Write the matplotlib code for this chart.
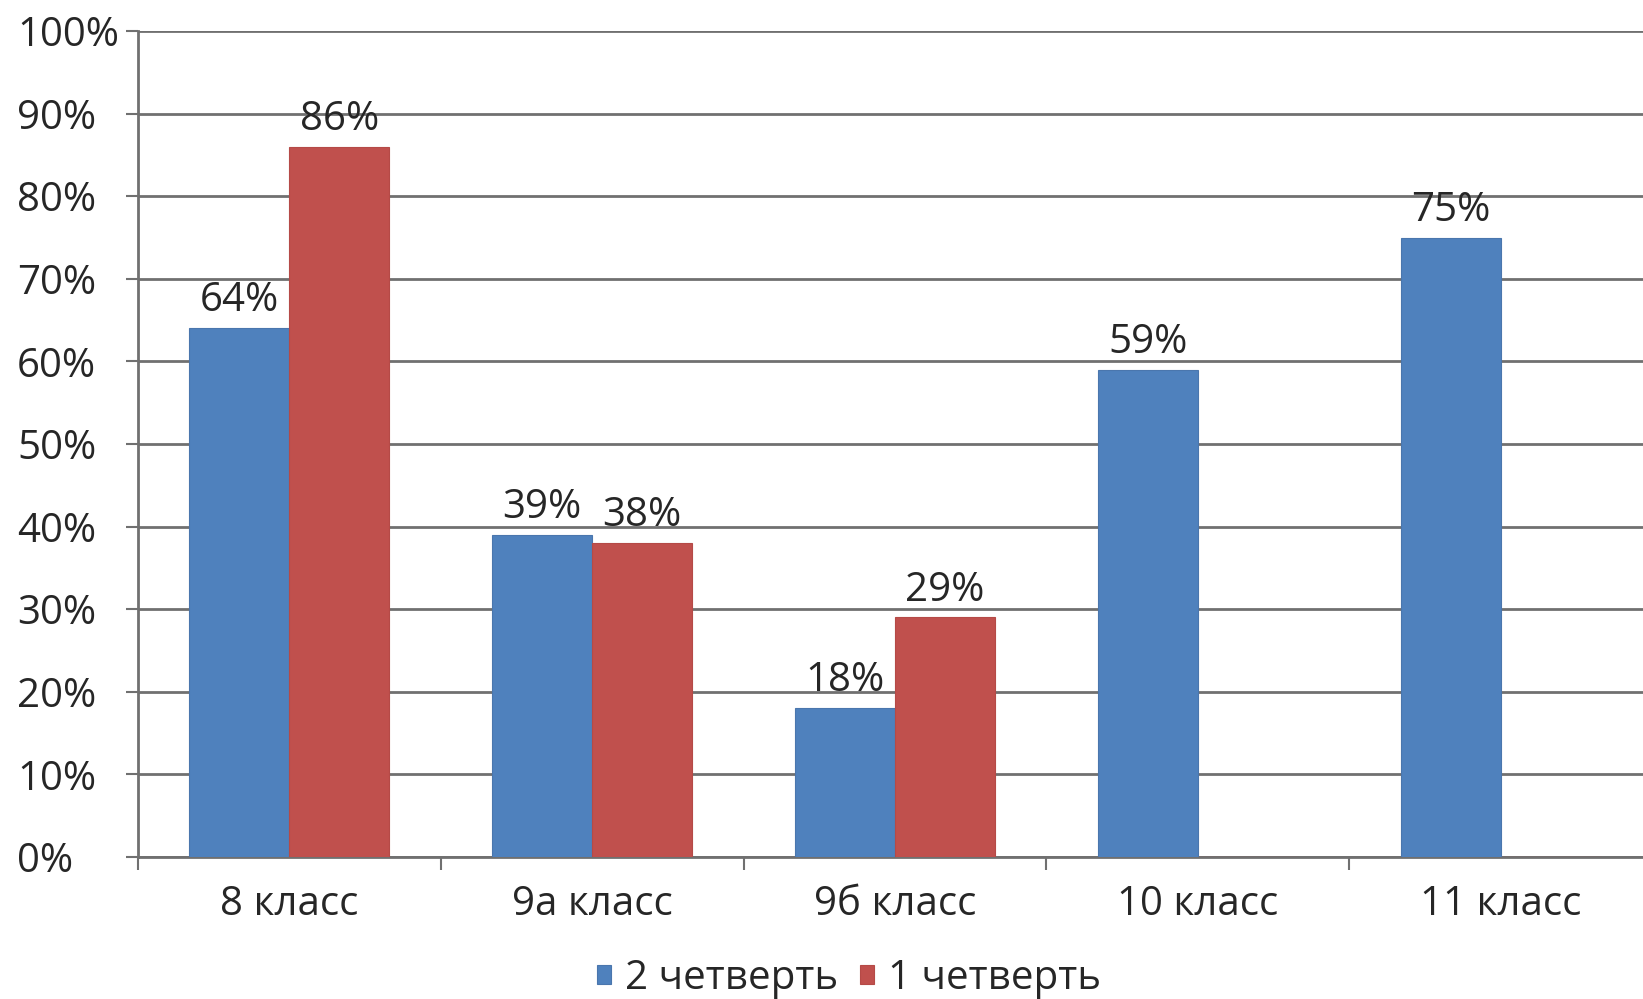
import numpy as np
import matplotlib.pyplot as plt
from matplotlib.ticker import FixedLocator, PercentFormatter

plt.rcParams['font.family'] = ['Open Sans', 'DejaVu Sans']

categories = ['8 класс', '9а класс', '9б класс', '10 класс', '11 класс']
q2 = [64, 39, 18, 59, 75]
q1 = [86, 38, 29, None, None]
series_names = ['2 четверть', '1 четверть']

blue = '#4F81BD'
red = '#C0504D'
fs = 29

fig = plt.figure(figsize=(16.43, 9.99), dpi=100)
# plot area runs slightly past the right edge, like in the cropped original
ax = fig.add_axes([138 / 1643, 1 - 857 / 999, 1514 / 1643, (857 - 31) / 999])

x = np.arange(len(categories))
w = 0.33

b2 = ax.bar(x - w / 2, q2, w, color=blue, edgecolor='#4a76ad', linewidth=0.8,
            label=series_names[0], zorder=3)
q1_vals = [v if v is not None else 0 for v in q1]
b1 = ax.bar(x + w / 2, q1_vals, w, color=red, edgecolor='#b54a47', linewidth=0.8,
            label=series_names[1], zorder=3)

for bars, vals in [(b2, q2), (b1, q1)]:
    for rect, v in zip(bars, vals):
        if v is None:
            continue
        ax.annotate(f'{v}%', (rect.get_x() + rect.get_width() / 2, v),
                    xytext=(0, 5), textcoords='offset points',
                    ha='center', va='bottom', fontsize=fs, color='#262626', zorder=4)

ax.set_xlim(-0.5, len(categories) - 0.5)
ax.set_ylim(0, 100)
ax.set_yticks(np.arange(0, 101, 10))
ax.yaxis.set_major_formatter(PercentFormatter(decimals=0))
ax.grid(axis='y', color='#707070', linewidth=2, zorder=0)

ax.set_xticks(x)
ax.set_xticklabels(categories)
ax.xaxis.set_minor_locator(FixedLocator(np.arange(-0.5, len(categories), 1)))
ax.tick_params(axis='x', which='major', length=0, pad=20, labelsize=fs, labelcolor='#262626')
ax.tick_params(axis='x', which='minor', length=9, width=1.5, color='#707070', direction='out')
ax.tick_params(axis='y', length=9, width=1.5, color='#707070', labelsize=fs,
               labelcolor='#262626', pad=78)
for lbl in ax.get_yticklabels():
    lbl.set_horizontalalignment('left')

for s in ['top', 'right']:
    ax.spines[s].set_visible(False)
ax.spines['left'].set_color('#707070')
ax.spines['left'].set_linewidth(2)
ax.spines['bottom'].set_color('#707070')
ax.spines['bottom'].set_linewidth(2)

fig.legend(handles=[b2, b1], labels=series_names, loc='center',
           bbox_to_anchor=(849 / 1643, 1 - 979 / 999), ncol=2, frameon=False,
           fontsize=fs, handlelength=0.35, handleheight=0.35, handletextpad=0.35,
           columnspacing=0.55, labelcolor='#262626')

fig.savefig('out.png', dpi=100)
